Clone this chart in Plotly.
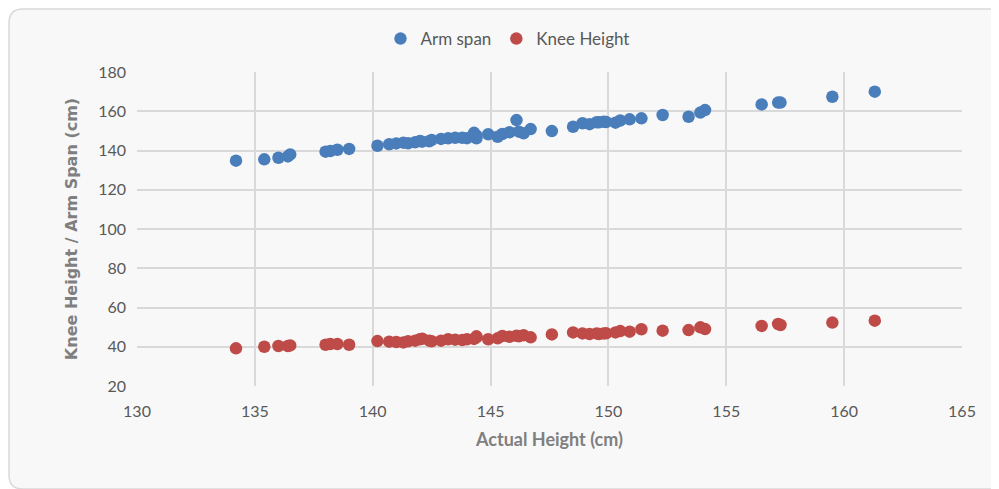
import plotly.graph_objects as go

# Data
actual_height = [134.2, 135.4, 136.0, 136.4, 136.5, 138.0, 138.2, 138.5, 139.0, 140.2,
                 140.7, 141.0, 141.3, 141.5, 141.8, 142.0, 142.1, 142.4, 142.5, 142.9,
                 143.2, 143.5, 143.8, 144.0, 144.3, 144.4, 144.4, 144.9, 145.3, 145.5,
                 145.8, 146.1, 146.2, 146.4, 146.7, 147.6, 148.5, 148.9, 149.2, 149.5,
                 149.6, 149.8, 149.9, 150.3, 150.5, 150.9, 151.4, 152.3, 153.4, 153.9,
                 154.1, 156.5, 157.2, 157.3, 159.5, 161.3]
arm_span = [134.8, 135.5, 136.3, 137.0, 138.0, 139.4, 139.7, 140.4, 140.8, 142.4,
            143.2, 143.6, 144.0, 143.7, 144.2, 144.8, 144.5, 144.7, 145.4, 145.9,
            146.2, 146.5, 146.5, 146.3, 149.0, 147.5, 146.2, 148.3, 147.0, 148.4,
            149.3, 155.5, 149.6, 148.8, 150.9, 149.9, 152.1, 153.9, 153.4, 154.4,
            154.4, 154.7, 154.5, 154.2, 155.3, 155.9, 156.4, 158.1, 157.2, 159.3,
            160.6, 163.5, 164.4, 164.4, 167.4, 170.0]
knee_height = [39.2, 40.0, 40.4, 40.4, 40.7, 41.0, 41.4, 41.4, 41.0, 42.9,
               42.6, 42.4, 42.2, 42.8, 43.1, 43.8, 44.1, 43.1, 42.8, 43.1,
               43.8, 43.6, 43.4, 43.8, 44.0, 44.8, 45.3, 43.8, 44.3, 45.5,
               45.1, 45.6, 45.3, 45.9, 44.8, 46.3, 47.3, 46.8, 46.5, 46.8,
               46.5, 46.8, 46.9, 47.3, 48.0, 47.7, 48.9, 48.2, 48.5, 49.9,
               49.0, 50.6, 51.6, 51.1, 52.3, 53.3]

x_ticks = [130, 135, 140, 145, 150, 155, 160, 165]
y_ticks = [20, 40, 60, 80, 100, 120, 140, 160, 180]

W, H = 999, 489
# the page adds an 8px body margin, so the figure is shifted by 8px
L, T = 129, 64
pw, ph = 825, 314
R = W - L - pw
B = H - T - ph

def px(x):
    return (x - L) / pw

def py(y):
    return (H - B - y) / ph

# rounded outer frame path (figure pixels -> paper)
x0, y0, x1, y1, r = 1, 1, 1010, 481, 14
def P(x, y):
    return f"{px(x):.5f},{py(y):.5f}"
path = (f"M {P(x0 + r, y0)} L {P(x1 - r, y0)} Q {P(x1, y0)} {P(x1, y0 + r)} "
        f"L {P(x1, y1 - r)} Q {P(x1, y1)} {P(x1 - r, y1)} "
        f"L {P(x0 + r, y1)} Q {P(x0, y1)} {P(x0, y1 - r)} "
        f"L {P(x0, y0 + r)} Q {P(x0, y0)} {P(x0 + r, y0)} Z")

fig = go.Figure()
fig.add_trace(go.Scatter(x=actual_height, y=arm_span, mode="markers", name="Arm span",
                         marker=dict(color="#4A7EBB", size=12.5)))
fig.add_trace(go.Scatter(x=actual_height, y=knee_height, mode="markers", name="Knee Height",
                         marker=dict(color="#BE4B48", size=12.5)))

tick_font = dict(family="Lato", size=16, color="#595959")
fig.update_layout(
    width=W, height=H,
    margin=dict(l=L, r=R, t=T, b=B, autoexpand=False),
    paper_bgcolor="white",
    plot_bgcolor="rgba(0,0,0,0)",
    showlegend=True,
    legend=dict(orientation="h", xref="container", yref="container",
                x=0.50, y=(H - 31) / H, xanchor="center", yanchor="middle",
                font=dict(family="Lato", size=17, color="#595959"),
                bgcolor="rgba(0,0,0,0)", itemwidth=30),
    xaxis=dict(range=[130, 165], tickvals=x_ticks, ticktext=[str(v) for v in x_ticks],
               showgrid=True, gridcolor="#D9D9D9", gridwidth=1.5, zeroline=False,
               showline=False, tickfont=tick_font, ticks="", ticklabelstandoff=14,
               title=dict(text="<b>Actual Height (cm)</b>", standoff=14,
                          font=dict(family="Lato", size=18, color="#7F7F7F"))),
    yaxis=dict(range=[20, 180], tickvals=y_ticks, ticktext=[str(v) for v in y_ticks],
               showgrid=True, gridcolor="#D9D9D9", gridwidth=1.5, zeroline=False,
               showline=False, tickfont=tick_font, ticks="", ticklabelstandoff=10,
               title=dict(text="<b>Knee Height / Arm Span (cm)</b>", standoff=16,
                          font=dict(family="DejaVu Sans", size=16, color="#7F7F7F"))),
    shapes=[dict(type="path", xref="paper", yref="paper", path=path, layer="below",
                 fillcolor="#F8F8F8", line=dict(color="#D9D9D9", width=1.5))],
)

fig.write_html("out.html")
